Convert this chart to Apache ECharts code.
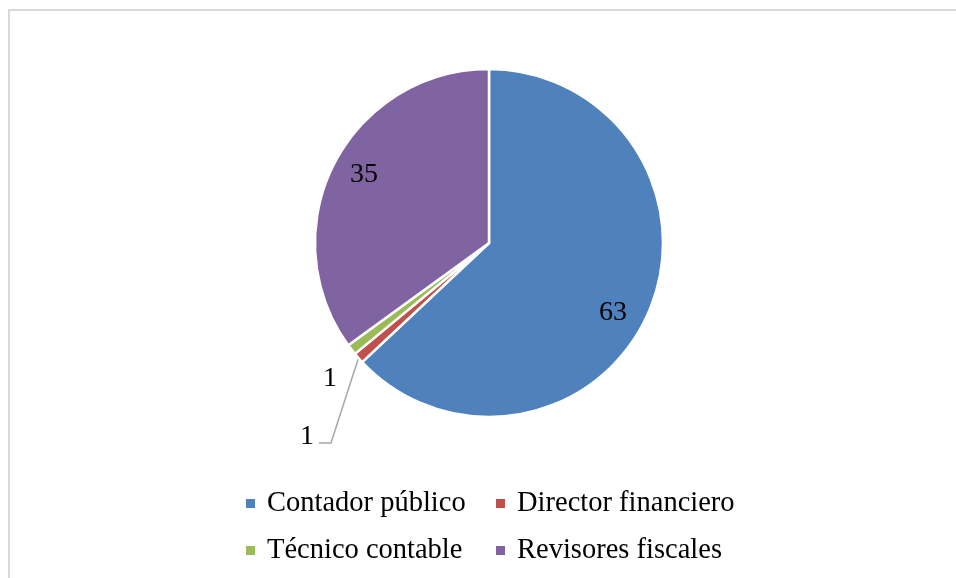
<!DOCTYPE html>
<html>
<head>
<meta charset="utf-8">
<script src="https://cdn.jsdelivr.net/npm/echarts@6/dist/echarts.min.js"></script>
<style>
html,body{margin:0;padding:0;background:#fff;}
#chart{width:956px;height:578px;}
</style>
</head>
<body>
<div id="chart"></div>
<script>
var categories = ['Contador público', 'Director financiero', 'Técnico contable', 'Revisores fiscales'];
var values = [63, 1, 1, 35];
var colors = ['#4F81BD', '#C0504D', '#9BBB59', '#8064A2'];

var FONT = '"Liberation Serif", "Times New Roman", serif';
var CX = 489, CY = 243, R = 174;

var chart = echarts.init(document.getElementById('chart'), null, {renderer: 'canvas'});

function legendAt(idx, left, top) {
  return {
    data: [categories[idx]],
    left: left, top: top,
    orient: 'horizontal',
    icon: 'rect',
    itemWidth: 9, itemHeight: 9,
    itemStyle: {borderWidth: 0},
    padding: 0,
    textStyle: {fontFamily: FONT, fontSize: 28.5, color: '#000', padding: [0, 0, 0, 7]}
  };
}

var option = {
  animation: false,
  backgroundColor: '#fff',
  color: colors,
  graphic: [{
    type: 'rect',
    shape: {x: 9, y: 10, width: 1200, height: 1000},
    style: {fill: 'none', stroke: '#d9d9d9', lineWidth: 2},
    silent: true
  }],
  legend: [
    legendAt(0, 246, 489),
    legendAt(1, 496, 489),
    legendAt(2, 246, 536),
    legendAt(3, 496, 536)
  ],
  series: [{
    type: 'pie',
    center: [CX, CY],
    radius: [0, R],
    startAngle: 90,
    clockwise: true,
    avoidLabelOverlap: false,
    itemStyle: {borderColor: '#fff', borderWidth: 2.5},
    label: {
      show: true,
      formatter: '{c}',
      fontFamily: FONT,
      fontSize: 28,
      color: '#000',
      position: 'outside'
    },
    labelLine: {show: true, lineStyle: {color: '#a6a6a6', width: 1.5}},
    labelLayout: function (p) {
      var i = p.dataIndex;
      if (i === 0) return {x: CX + 124, y: CY + 70, align: 'center', verticalAlign: 'middle'};
      if (i === 3) return {x: CX - 125, y: CY - 68, align: 'center', verticalAlign: 'middle'};
      if (i === 2) return {x: CX - 159, y: CY + 136, align: 'center', verticalAlign: 'middle', labelLinePoints: [[0,0],[0,0],[0,0]]};
      if (i === 1) {
        var start = p.labelLinePoints ? p.labelLinePoints[0] : [CX - 131, CY + 115];
        return {
          x: CX - 182, y: CY + 194, align: 'center', verticalAlign: 'middle',
          labelLinePoints: [start, [CX - 158, CY + 200], [CX - 170, CY + 200]]
        };
      }
    },
    data: categories.map(function (c, i) {
      var d = {name: c, value: values[i]};
      if (i === 0 || i === 3) {
        d.label = {position: 'inside'};
        d.labelLine = {show: false};
      }
      if (i === 2) d.labelLine = {show: false};
      return d;
    })
  }]
};
chart.setOption(option);
</script>
</body>
</html>
